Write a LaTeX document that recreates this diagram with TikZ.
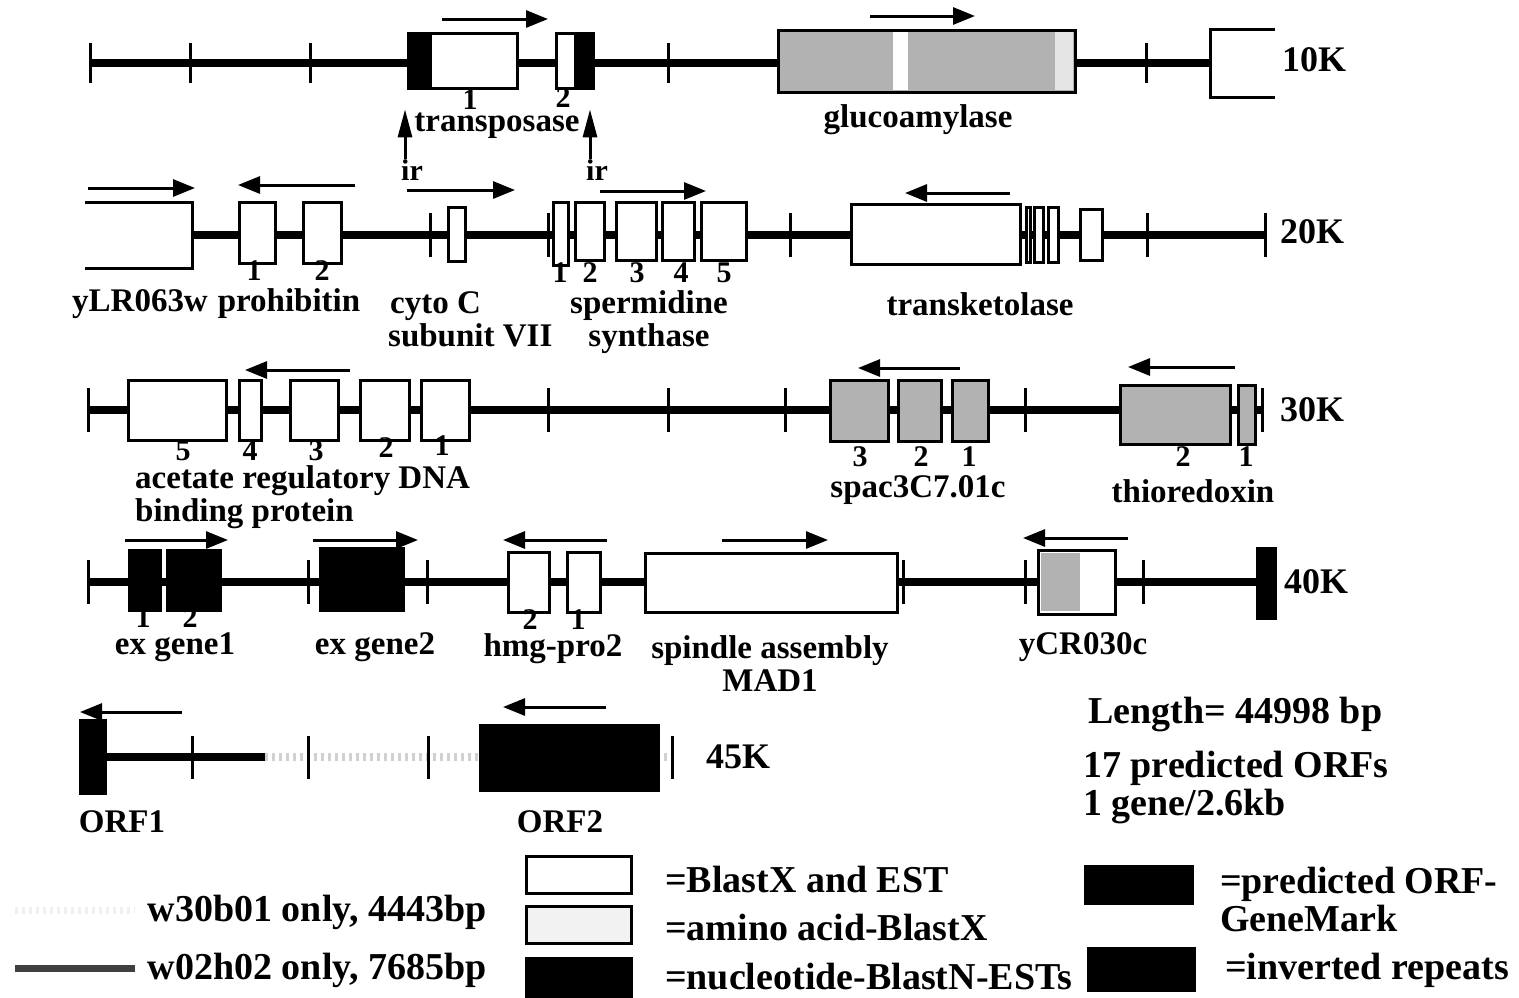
\documentclass[tikz,border=0pt]{standalone}
\usepackage{fontspec}
\setmainfont{Liberation Serif}
\usetikzlibrary{arrows.meta,fit}
\tikzset{
  backbone/.style={line width=8pt},
  tickmark/.style={line width=3pt},
  thinline/.style={line width=3pt},
  exon/.style={draw, line width=3pt, fill=white, inner sep=0pt},
  aabox/.style={exon, fill=black!30},
  ntbox/.style={exon, fill=black},
  strand/.style={-{Triangle[length=22pt,width=17pt]}, line width=3pt},
  irarr/.style={-{Triangle[length=28pt,width=14pt]}, line width=3pt},
  lab/.style={font=\fontsize{33}{33}\selectfont\bfseries, inner sep=0pt},
  num/.style={font=\fontsize{30}{30}\selectfont\bfseries, inner sep=0pt},
  ktag/.style={font=\fontsize{36}{36}\selectfont\bfseries, inner sep=0pt},
  big/.style={font=\fontsize{38}{38}\selectfont\bfseries, inner sep=0pt}
}
\begin{document}
\begin{tikzpicture}[x=1pt,y=-1pt]
\useasboundingbox (0,0) rectangle (1519,997);

% 0 - 10K
\coordinate (a0) at (90,63);
\coordinate (a1) at (1210,63);
\draw[backbone] (a0) -- (a1);
\foreach \x in {90,190,310,668,1146} \draw[tickmark] (\x,43) -- (\x,83);
\node[ntbox, fit={(408,33) (430,88)}] (irL) {};
\node[exon, fit={(430,33) (517,88)}] (tp1) {};
\node[exon, fit={(556,33) (575,88)}] (tp2) {};
\node[ntbox, fit={(575,33) (593,88)}] (irR) {};
\node[aabox, fit={(778,30) (1075,92)}] (glu) {};
\fill[white] (893,32) rectangle (908,90);
\fill[black!10] (1055,32) rectangle (1073,90);
\draw[thinline] (1275,29) -| (1210,97) -- (1275,97);
\draw[strand] (442,19) -- (548,19);
\draw[strand] (870,16) -- (975,16);
\node[num] (tp1n) at (470,100) {1};
\node[num] (tp2n) at (563,98) {2};
\node[lab] (tpase) at (497,126) {transposase};
\node[num] (ir1) at (412,170) {ir};
\node[num] (ir2) at (597,170) {ir};
\draw[irarr] ([xshift=-7pt]ir1.north) -- ++(0,-50);
\draw[irarr] ([xshift=-7pt]ir2.north) -- ++(0,-50);
\node[lab] (glab) at (918,120) {glucoamylase};
\node[ktag] (k10) at (1314,60) {10K};

% 10K - 20K
\coordinate (b0) at (192,235);
\coordinate (b1) at (1265,235);
\draw[backbone] (b0) -- (b1);
\draw[thinline] (85,202) -| (192,268) -- (85,268);
\foreach \x in {430,548,790,1147,1265} \draw[tickmark] (\x,213) -- (\x,257);
\node[exon, fit={(239,202) (275,263)}] (ph1) {};
\node[exon, fit={(303,202) (341,263)}] (ph2) {};
\node[exon, fit={(448,207) (465,261)}] (cyc) {};
\node[exon, fit={(553,202) (568,265)}] (sp1) {};
\node[exon, fit={(575,202) (604,260)}] (sp2) {};
\node[exon, fit={(616,202) (656,260)}] (sp3) {};
\node[exon, fit={(662,202) (694,260)}] (sp4) {};
\node[exon, fit={(701,202) (746,260)}] (sp5) {};
\node[exon, fit={(851,204) (1020,264)}] (tk) {};
\node[exon, fit={(1026,207) (1030,262)}] (tka) {};
\node[exon, fit={(1034,207) (1043,262)}] (tkb) {};
\node[exon, fit={(1048,207) (1058,262)}] (tkc) {};
\node[exon, fit={(1080,209) (1102,260)}] (tkd) {};
\draw[strand] (88,188) -- (195,188);
\draw[strand] (355,185) -- (238,185);
\draw[strand] (407,190) -- (515,190);
\draw[strand] (600,191) -- (706,191);
\draw[strand] (1010,193) -- (905,193);
\node[num] (ph1n) at (254,271) {1};
\node[num] (ph2n) at (322,271) {2};
\node[lab] (ylr) at (140,304) {yLR063w};
\node[lab] (phlab) at (289,304) {prohibitin};
\node[lab, align=left, anchor=west] (cyclab) at (388,319) {\hspace*{2pt}cyto C\\subunit VII};
\foreach \n/\x in {1/560,2/590,3/637,4/681,5/724} \node[num] (sp\n n) at (\x,273) {\n};
\node[lab, align=center] (splab) at (649,322) {spermidine\\synthase};
\node[lab] (tklab) at (980,304) {transketolase};
\node[ktag] (k20) at (1312,232) {20K};

% 20K - 30K
\coordinate (c0) at (88,410);
\coordinate (c1) at (1262,410);
\draw[backbone] (c0) -- (c1);
\foreach \x in {88,548,668,785,1025,1262} \draw[tickmark] (\x,388) -- (\x,432);
\node[exon, fit={(128,380) (226,440)}] (ac5) {};
\node[exon, fit={(239,380) (261,440)}] (ac4) {};
\node[exon, fit={(290,380) (338,440)}] (ac3) {};
\node[exon, fit={(360,380) (409,440)}] (ac2) {};
\node[exon, fit={(421,380) (469,440)}] (ac1) {};
\node[aabox, fit={(830,380) (888,441)}] (sc3) {};
\node[aabox, fit={(898,380) (941,441)}] (sc2) {};
\node[aabox, fit={(952,380) (988,441)}] (sc1) {};
\node[aabox, fit={(1120,385) (1230,444)}] (th2) {};
\node[aabox, fit={(1238,385) (1255,444)}] (th1) {};
\draw[strand] (350,370) -- (245,370);
\draw[strand] (960,368) -- (858,368);
\draw[strand] (1235,367) -- (1128,367);
\foreach \n/\x/\y in {5/183/451,4/250/451,3/316/451,2/386/448,1/442/446} \node[num] (ac\n n) at (\x,\y) {\n};
\node[lab, align=left, anchor=west] (aclab) at (135,497) {acetate regulatory DNA\\binding protein};
\foreach \n/\x in {3/860,2/921,1/969} \node[num] (sc\n n) at (\x,457) {\n};
\node[lab] (sclab) at (918,490) {spac3C7.01c};
\node[num] (th2n) at (1183,457) {2};
\node[num] (th1n) at (1246,457) {1};
\node[lab] (thlab) at (1193,491) {thioredoxin};
\node[ktag] (k30) at (1312,410) {30K};

% 30K - 40K
\coordinate (d0) at (88,582);
\coordinate (d1) at (1266,582);
\draw[backbone] (d0) -- (d1);
\foreach \x in {88,308,427,903,1025,1143} \draw[tickmark] (\x,560) -- (\x,604);
\node[ntbox, fit={(129,550) (160,610)}] (eg1) {};
\node[ntbox, fit={(167,550) (220,610)}] (eg2) {};
\node[ntbox, fit={(320,548) (403,610)}] (eh) {};
\node[exon, fit={(508,552) (549,612)}] (hm2) {};
\node[exon, fit={(567,552) (600,612)}] (hm1) {};
\node[exon, fit={(645,553) (897,612)}] (mad) {};
\node[exon, fit={(1038,550) (1115,614)}] (ycr) {};
\fill[black!30] (1041,553) rectangle (1080,611);
\node[ntbox, fit={(1257,548) (1275,618)}] (irE) {};
\draw[strand] (125,540) -- (228,540);
\draw[strand] (313,540) -- (418,540);
\draw[strand] (607,540) -- (503,540);
\draw[strand] (722,540) -- (828,540);
\draw[strand] (1128,538) -- (1023,538);
\node[num] (eg1n) at (143,618) {1};
\node[num] (eg2n) at (190,618) {2};
\node[lab] (eglab) at (175,647) {ex gene1};
\node[lab] (ehlab) at (375,647) {ex gene2};
\node[num] (hm2n) at (530,620) {2};
\node[num] (hm1n) at (578,620) {1};
\node[lab] (hmlab) at (553,649) {hmg-pro2};
\node[lab, align=center] (madlab) at (770,664) {spindle assembly\\MAD1};
\node[lab] (ycrlab) at (1083,647) {yCR030c};
\node[ktag] (k40) at (1316,582) {40K};

% 40K - 45K
\coordinate (e0) at (105,757);
\coordinate (e1) at (265,757);
\coordinate (e2) at (672,757);
\draw[backbone, black!18, dash pattern=on 3pt off 4pt] (e1) -- (e2);
\draw[backbone] (e0) -- (e1);
\foreach \x in {192,308,428,672} \draw[tickmark] (\x,736) -- (\x,779);
\node[ntbox, fit={(80,720) (105,793)}] (orf1) {};
\node[ntbox, fit={(480,725) (658,790)}] (orf2) {};
\draw[strand] (182,712) -- (80,712);
\draw[strand] (606,707) -- (503,707);
\node[lab] (orf1lab) at (122,822) {ORF1};
\node[lab] (orf2lab) at (560,822) {ORF2};
\node[ktag] (k45) at (738,757) {45K};

% summary
\node[big, anchor=west] (len) at (1088,714) {Length= 44998 bp};
\node[big, anchor=west] (norf) at (1083,768) {17 predicted ORFs};
\node[big, anchor=west] (dens) at (1083,806) {1 gene/2.6kb};

% legend
\coordinate (w0) at (15,910);
\coordinate (w1) at (135,910);
\coordinate (v0) at (15,968);
\coordinate (v1) at (135,968);
\draw[line width=7pt, black!6, dash pattern=on 3pt off 4pt] (w0) -- (w1);
\draw[line width=7pt, black!75] (v0) -- (v1);
\node[big, anchor=east] (wlab) at (487,912) {w30b01 only, 4443bp};
\node[big, anchor=east] (vlab) at (487,970) {w02h02 only, 7685bp};
\node[exon, fit={(526,856) (631,893)}] (lgW) {};
\node[exon, fill=black!5, fit={(526,906) (631,943)}] (lgA) {};
\node[ntbox, fit={(526,958) (631,997)}] (lgN) {};
\node[big, anchor=west] (lgWt) at (665,879) {=BlastX and EST};
\node[big, anchor=west] (lgAt) at (665,927) {=amino acid-BlastX};
\node[big, anchor=west] (lgNt) at (665,977) {=nucleotide-BlastN-ESTs};
\node[ntbox, fit={(1085,866) (1192,903)}] (lgP) {};
\node[ntbox, fit={(1088,948) (1194,990)}] (lgI) {};
\node[big, anchor=west, align=left] (lgPt) at (1220,899) {=predicted ORF-\\GeneMark};
\node[big, anchor=west] (lgIt) at (1225,970) {=inverted repeats};
\end{tikzpicture}
\end{document}
